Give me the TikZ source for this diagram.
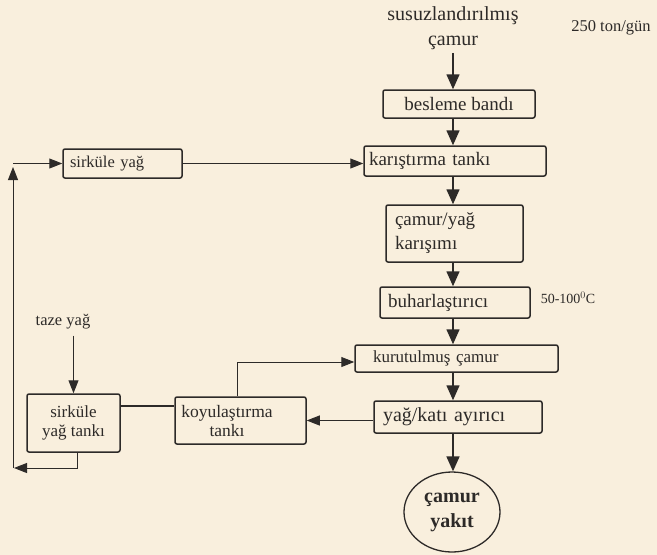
\documentclass[tikz,border=0pt]{standalone}
\usepackage{fontspec}
\setmainfont{Liberation Serif}
\usetikzlibrary{arrows.meta,shapes.geometric}
\definecolor{bg}{RGB}{249,239,221}
\definecolor{ink}{RGB}{45,42,40}
\tikzset{
 box/.style={draw=ink, line width=1.5pt, rounded corners=2pt, inner ysep=0pt, text=ink},
 arr/.style={draw=ink, line width=1pt, -{Triangle[length=13pt,width=10pt]}},
 marr/.style={draw=ink, line width=1.6pt, -{Triangle[length=15pt,width=13pt]}},
 ln/.style={draw=ink, line width=1pt},
 big/.style={font=\fontsize{19}{24}\selectfont},
 small/.style={font=\fontsize{16.5}{19}\selectfont},
 lbl/.style={text=ink, inner sep=0pt},
}
\begin{document}
\begin{tikzpicture}[x=1pt,y=-1pt]
\fill[bg] (0,0) rectangle (657,555);
\useasboundingbox (0,0) rectangle (657,555);

% texts
\node[lbl, align=center, font=\fontsize{20}{25}\selectfont] (feed) at (453,28) {susuzlandırılmış\\çamur};
\node[lbl, small] (ton) at (611,28) {250 ton/gün};
\node[lbl, font=\fontsize{14}{16}\selectfont] (temp) at (568,298) {50-100$^{0}$C};
\node[lbl, small] (taze) at (63,322) {taze yağ};

% main column
\node[box, big, minimum width=152pt, minimum height=28pt, inner xsep=0pt] (besleme) at (459,104) {besleme bandı};
\node[box, big, minimum width=182pt, minimum height=30pt, text width=172pt, inner xsep=5pt, align=left] (kar) at (455,161) {karıştırma tankı};
\node[box, big, minimum height=57pt, text width=119pt, inner xsep=9pt, align=left] (cy) at (454.5,233.5) {çamur/yağ\\karışımı};
\node[box, big, minimum width=150pt, minimum height=31pt, text width=134pt, inner xsep=8pt, align=left] (buh) at (455,302.5) {buharlaştırıcı};
\node[box, font=\fontsize{17}{19}\selectfont, minimum height=27pt, text width=167pt, inner xsep=18pt, align=left] (kur) at (456.5,358.5) {kurutulmuş çamur};
\node[box, font=\fontsize{20}{24}\selectfont, minimum height=32pt, text width=150pt, inner xsep=9pt, align=left] (yk) at (458,417) {yağ/katı ayırıcı};
\node[draw=ink, line width=1.3pt, ellipse, minimum width=96pt, minimum height=80pt, inner sep=0pt, text=ink, align=center, font=\bfseries\fontsize{20}{25}\selectfont] (yakit) at (452,512) {çamur\\yakıt};

% left side
\node[box, small, minimum height=29pt, text width=105pt, inner xsep=7pt, align=left] (sy) at (122.5,163.5) {sirküle yağ};
\node[box, minimum width=131pt, minimum height=47pt, inner sep=0pt] (koy) at (240.5,420.5) {};
\node[lbl, font=\fontsize{17.5}{19}\selectfont, align=center] (koyt) at (227,421) {koyulaştırma\\tankı};
\node[box, font=\fontsize{17}{19}\selectfont, minimum width=93pt, minimum height=58pt, inner xsep=0pt, align=center] (syt) at (73.5,423) {sirküle\\yağ tankı};

% helper coordinates
\coordinate (ax) at (453,0);
\coordinate (kx) at (237,362);
\coordinate (tx) at (77,468);
\coordinate (lb) at (14,468);
\coordinate (lt) at (13,163.5);

% main flow
\draw[marr] (feed.south -| ax) ++(0,3) -- (besleme.north -| ax);
\draw[marr] (besleme.south -| ax) -- (kar.north -| ax);
\draw[marr] (kar.south -| ax) -- (cy.north -| ax);
\draw[marr] (cy.south -| ax) -- (buh.north -| ax);
\draw[marr] (buh.south -| ax) -- (kur.north -| ax);
\draw[marr] (kur.south -| ax) -- (yk.north -| ax);
\draw[marr] (yk.south -| ax) -- (yakit.north -| ax);

% recycle loops
\draw[arr] (sy.east) -- (sy.east -| kar.west);
\draw[arr] (yk.west |- koy.east) -- (koy.east);
\draw[arr] (koy.north -| kx) -- (kx) -- (kx -| kur.west);
\draw[ln, line width=1.8pt] (syt.east |- 0,406) -- (koy.west |- 0,406);
\draw[arr] (taze.south -| syt.north) ++(0,6) -- (syt.north);
\draw[arr] (syt.south -| tx) -- (tx) -- (lb);
\draw[arr] (13,468) -- (13,167);
\draw[arr] (lt) -- (lt -| sy.west);
\end{tikzpicture}
\end{document}
